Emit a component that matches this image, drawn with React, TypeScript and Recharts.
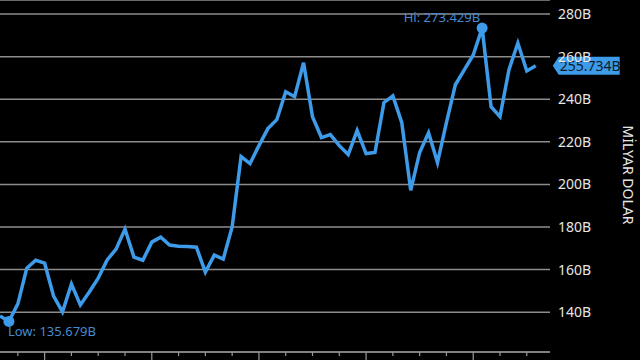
import { LineChart, Line, XAxis, YAxis, CartesianGrid, ReferenceDot } from "recharts";

// monthly values, in billions of dollars
const values = [
  138.2, 135.679, 143.9, 160.7, 164.4, 163.0, 147.6, 140.1, 153.2, 143.4,
  149.5, 156.0, 164.5, 169.6, 179.0, 165.9, 164.4, 172.9, 175.2, 171.5,
  171.0, 170.8, 170.5, 158.8, 166.8, 164.9, 180.0, 213.1, 209.8, 218.2,
  226.2, 230.4, 243.5, 241.2, 257.1, 231.8, 222.0, 223.4, 218.2, 214.0,
  225.3, 214.5, 215.0, 238.4, 241.6, 229.0, 197.2, 215.0, 224.3, 210.3,
  229.0, 246.8, 253.8, 260.8, 273.429, 236.5, 231.8, 253.8, 266.4, 253.3,
  255.734,
];
const periods = values.map((_, i) => i);
const yTicks = [140, 160, 180, 200, 220, 240, 260, 280];
const xTicks = [2, 5, 8, 11, 14, 17, 20, 23, 26, 29, 32, 35, 38, 41, 44, 47, 50, 53, 56, 59];
const majorTicks = [5, 17, 29, 41, 53];
const axisTitle = "MİLYAR DOLAR";

const data = periods.map((p, i) => ({ p, v: values[i] }));

const hiIdx = values.indexOf(Math.max(...values));
const loIdx = values.indexOf(Math.min(...values));
const lastIdx = values.length - 1;

const BLUE = "#3d9be9";
const FONT = "'Noto Sans', 'Open Sans', sans-serif";

const XTick = (props: any) => {
  const { x, y, payload } = props;
  const len = majorTicks.includes(payload.value) ? 9 : 4;
  return <line x1={x} y1={y} x2={x} y2={y + len} stroke="#9a9a9a" strokeWidth={1.2} />;
};

const HiDot = (props: any) => (
  <g>
    <circle cx={props.cx} cy={props.cy} r={5.5} fill={BLUE} />
    <text x={props.cx - 2} y={props.cy - 6} textAnchor="end" fill="#458bd2" fontSize={13} fontFamily={FONT}>
      {`Hi: ${values[hiIdx].toFixed(3)}B`}
    </text>
  </g>
);

const LowDot = (props: any) => (
  <g>
    <circle cx={props.cx} cy={props.cy} r={5.5} fill={BLUE} />
    <text x={props.cx - 1} y={props.cy + 15} textAnchor="start" fill="#458bd2" fontSize={13} fontFamily={FONT}>
      {`Low: ${values[loIdx].toFixed(3)}B`}
    </text>
  </g>
);

const LastBadge = (props: any) => {
  const { cx, cy } = props;
  const l = cx + 17;
  return (
    <g>
      <polygon
        points={`${l},${cy} ${l + 6},${cy - 9} ${l + 67},${cy - 9} ${l + 67},${cy + 9} ${l + 6},${cy + 9}`}
        fill={BLUE}
      />
      <text x={l + 7} y={cy} dy="0.36em" fill="#0d1b2a" fontSize={14} fontFamily={FONT}>
        {`${values[lastIdx].toFixed(3)}B`}
      </text>
    </g>
  );
};

export default function App() {
  return (
    <div style={{ position: "absolute", left: 0, top: 0, width: 640, height: 360, background: "#000" }}>
      <LineChart width={640} height={360} data={data} margin={{ top: 0, right: 0, left: 0, bottom: 0 }}>
        <CartesianGrid horizontal vertical={false} stroke="#8c8c8c" strokeWidth={1.5} />
        <XAxis
          dataKey="p"
          type="number"
          domain={[0, 61.6]}
          ticks={xTicks}
          height={8}
          tickSize={0}
          tickMargin={0}
          tick={<XTick />}
          axisLine={{ stroke: "#9a9a9a", strokeWidth: 1.2 }}
          tickLine={false}
        />
        <YAxis
          orientation="right"
          width={90}
          domain={[121.3, 286.6]}
          ticks={yTicks}
          tickSize={0}
          tickMargin={8}
          axisLine={false}
          tickLine={false}
          tickFormatter={(v: number) => `${v}B`}
          tick={{ fill: "#e6e6e6", fontSize: 14, fontFamily: FONT, textAnchor: "start" }}
          label={{
            content: () => (
              <text
                x={628}
                y={175}
                transform="rotate(90, 628, 175)"
                textAnchor="middle"
                dy="0.36em"
                fill="#e6e6e6"
                fontSize={14}
                fontFamily={FONT}
              >
                {axisTitle}
              </text>
            ),
          }}
        />
        <Line
          type="linear"
          dataKey="v"
          stroke={BLUE}
          strokeWidth={3.5}
          dot={false}
          activeDot={false}
          isAnimationActive={false}
        />
        <ReferenceDot x={periods[hiIdx]} y={values[hiIdx]} shape={<HiDot />} zIndex={1000} />
        <ReferenceDot x={periods[loIdx]} y={values[loIdx]} shape={<LowDot />} zIndex={1000} />
        <ReferenceDot x={periods[lastIdx]} y={values[lastIdx]} shape={<LastBadge />} zIndex={1000} />
      </LineChart>
    </div>
  );
}
